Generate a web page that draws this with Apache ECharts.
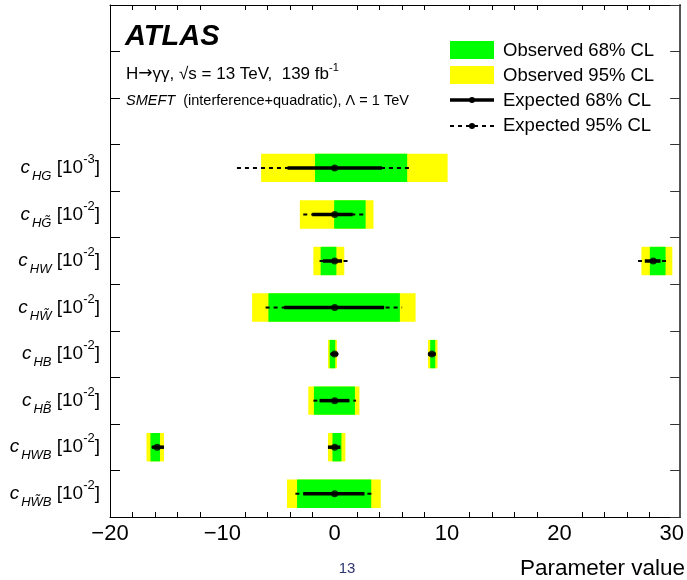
<!doctype html>
<html>
<head>
<meta charset="utf-8">
<title>ATLAS SMEFT limits</title>
<script src="https://cdn.jsdelivr.net/npm/echarts@6/dist/echarts.min.js"></script>
<style>
  html, body { margin: 0; padding: 0; background: #fff; }
  #chart { width: 687px; height: 580px; }
</style>
</head>
<body>
<div id="chart"></div>
<script>
  // rows of the y axis, top three left empty for the text block
  var rows = ['', '', '', 'HG', 'HGt', 'HW', 'HWt', 'HB', 'HBt', 'HWB', 'HWBt'];
  var subText = { HG: 'HG', HGt: 'HG\u0303', HW: 'HW', HWt: 'HW\u0303', HB: 'HB', HBt: 'HB\u0303', HWB: 'HWB', HWBt: 'HW\u0303B' };
  var scalePow = { HG: '-3', HGt: '-2', HW: '-2', HWt: '-2', HB: '-2', HBt: '-2', HWB: '-2', HWBt: '-2' };

  // [coefficient, low, high]
  var obs95 = [
    ['HG', -6.55, 10.05], ['HGt', -3.1, 3.45],
    ['HW', -1.9, 0.85], ['HW', 27.3, 30.05],
    ['HWt', -7.35, 7.2],
    ['HB', -0.6, 0.2], ['HB', 8.3, 9.15],
    ['HBt', -2.35, 2.2],
    ['HWB', -16.75, -15.2], ['HWB', -0.6, 0.95],
    ['HWBt', -4.25, 4.1]
  ];
  var obs68 = [
    ['HG', -1.75, 6.45], ['HGt', -0.05, 2.75],
    ['HW', -1.25, 0.15], ['HW', 28.05, 29.45],
    ['HWt', -5.9, 5.8],
    ['HB', -0.45, 0.05], ['HB', 8.5, 8.95],
    ['HBt', -1.85, 1.8],
    ['HWB', -16.4, -15.55], ['HWB', -0.2, 0.6],
    ['HWBt', -3.35, 3.25]
  ];
  var exp68 = [
    ['HG', -4.2, 4.2], ['HGt', -2.0, 1.6],
    ['HW', -1.05, 0.65], ['HW', 27.6, 29.0],
    ['HWt', -4.5, 4.4],
    ['HB', -0.35, 0.3], ['HB', 8.3, 9.0],
    ['HBt', -1.35, 1.3],
    ['HWB', -16.25, -15.2], ['HWB', -0.6, 0.5],
    ['HWBt', -2.8, 2.65]
  ];
  var exp95 = [
    ['HG', -8.7, 6.8], ['HGt', -2.8, 2.55],
    ['HW', -1.35, 1.25], ['HW', 27.0, 29.5],
    ['HWt', -6.15, 6.0],
    ['HB', -0.4, 0.35], ['HB', 8.3, 9.0],
    ['HBt', -1.9, 1.9],
    ['HWB', -16.3, -15.2], ['HWB', -0.6, 0.55],
    ['HWBt', -3.5, 3.45]
  ];
  // expected best-fit points [coefficient, value]
  var expCentre = [
    ['HG', 0], ['HGt', 0], ['HW', 0], ['HW', 28.35], ['HWt', 0],
    ['HB', 0], ['HB', 8.65], ['HBt', 0], ['HWB', -15.8], ['HWB', 0], ['HWBt', 0]
  ];

  var FONT = 'Liberation Sans';

  function toIdx(list) {
    return list.map(function (d) { return [rows.indexOf(d[0])].concat(d.slice(1)); });
  }

  function boxItem(color) {
    return function (params, api) {
      var r = api.value(0);
      var a = api.coord([api.value(1), r]);
      var b = api.coord([api.value(2), r]);
      var h = api.size([0, 1])[1] * 0.61;
      return {
        type: 'rect',
        shape: { x: a[0], y: a[1] - h / 2, width: b[0] - a[0], height: h },
        style: { fill: color }
      };
    };
  }

  function lineItem(width, dash) {
    return function (params, api) {
      var r = api.value(0);
      var a = api.coord([api.value(1), r]);
      var b = api.coord([api.value(2), r]);
      return {
        type: 'line',
        shape: { x1: a[0], y1: a[1], x2: b[0], y2: b[1] },
        style: { stroke: '#000', lineWidth: width, lineDash: dash }
      };
    };
  }

  function labelFmt(v) {
    if (!v) return '';
    return '{c|c}{s|' + subText[v] + '}{t| [10}{p|' + scalePow[v] + '}{t|]}';
  }

  var xBase = {
    type: 'value', min: -20, max: 30.75, interval: 10,
    splitLine: { show: false },
    axisLine: { show: true, onZero: false, lineStyle: { color: '#000', width: 1 } },
    axisTick: { inside: true, length: 9, lineStyle: { color: '#000' } },
    minorTick: { show: true, splitNumber: 5, length: 5, lineStyle: { color: '#000' } }
  };

  var chart = echarts.init(document.getElementById('chart'));
  chart.setOption({
    animation: false,
    grid: { left: 110, right: 2, top: 5, bottom: 63, containLabel: false },
    xAxis: [
      Object.assign({}, xBase, {
        position: 'bottom',
        axisLabel: {
          fontSize: 22, color: '#000', fontFamily: FONT, margin: 6, showMaxLabel: false,
          formatter: function (v) { return v < 0 ? '\u2212' + (-v) : String(v); }
        }
      }),
      Object.assign({}, xBase, { position: 'top', axisLabel: { show: false } })
    ],
    yAxis: [
      {
        type: 'category', data: rows, inverse: true, position: 'left',
        axisLine: { show: true, onZero: false, lineStyle: { color: '#000', width: 1 } },
        axisTick: { show: true, inside: true, length: 10, lineStyle: { color: '#000' } },
        axisLabel: {
          margin: 10, formatter: labelFmt,
          rich: {
            c: { fontFamily: FONT, fontStyle: 'italic', fontSize: 19, color: '#000', lineHeight: 30 },
            s: { fontFamily: FONT, fontStyle: 'italic', fontSize: 13, color: '#000', lineHeight: 10, verticalAlign: 'bottom', padding: [0, 0, 0, 2] },
            t: { fontFamily: FONT, fontSize: 19, color: '#000', lineHeight: 30 },
            p: { fontFamily: FONT, fontSize: 13, color: '#000', lineHeight: 16, verticalAlign: 'top' }
          }
        }
      },
      {
        type: 'category', data: rows, inverse: true, position: 'right',
        axisLine: { show: true, onZero: false, lineStyle: { color: '#555', width: 2 } },
        axisTick: { show: true, inside: true, length: 10, lineStyle: { color: '#333' } },
        axisLabel: { show: false }
      }
    ],
    series: [
      { type: 'custom', xAxisIndex: 0, yAxisIndex: 0, renderItem: boxItem('#ffff00'), data: toIdx(obs95), encode: { x: [1, 2], y: 0 } },
      { type: 'custom', xAxisIndex: 0, yAxisIndex: 0, renderItem: boxItem('#00ff00'), data: toIdx(obs68), encode: { x: [1, 2], y: 0 } },
      { type: 'custom', xAxisIndex: 0, yAxisIndex: 0, renderItem: lineItem(2, [4, 4]), data: toIdx(exp95), encode: { x: [1, 2], y: 0 } },
      { type: 'custom', xAxisIndex: 0, yAxisIndex: 0, renderItem: lineItem(3.5, null), data: toIdx(exp68), encode: { x: [1, 2], y: 0 } },
      {
        type: 'scatter', xAxisIndex: 0, yAxisIndex: 0, symbol: 'circle', symbolSize: 7,
        itemStyle: { color: '#000' },
        data: expCentre.map(function (d) { return [d[1], rows.indexOf(d[0])]; })
      }
    ],
    graphic: [
      { type: 'text', x: 125, y: 37, style: { text: 'ATLAS', fontFamily: FONT, fontSize: 29, fontWeight: 'bold', fontStyle: 'italic', fill: '#000', verticalAlign: 'middle' } },
      { type: 'text', x: 126, y: 74, style: {
          text: '{m|H}{a|\u2192}{m|\u03b3\u03b3, \u221as = 13 TeV,  139 fb}{u|-1}', verticalAlign: 'middle',
          rich: {
            m: { fontFamily: FONT, fontSize: 17, fill: '#000', lineHeight: 24 },
            a: { fontFamily: 'DejaVu Sans', fontSize: 17, fill: '#000', lineHeight: 24 },
            u: { fontFamily: FONT, fontSize: 11, fill: '#000', lineHeight: 12, verticalAlign: 'top' }
          } } },
      { type: 'text', x: 126, y: 101, style: {
          text: '{i|SMEFT}{r|  (interference+quadratic), \u039b = 1 TeV}', verticalAlign: 'middle',
          rich: {
            i: { fontFamily: FONT, fontSize: 14.5, fontStyle: 'italic', fill: '#000' },
            r: { fontFamily: FONT, fontSize: 14.5, fill: '#000' }
          } } },
      // legend
      { type: 'rect', shape: { x: 450, y: 41, width: 44, height: 18 }, style: { fill: '#00ff00' } },
      { type: 'rect', shape: { x: 450, y: 66, width: 44, height: 18 }, style: { fill: '#ffff00' } },
      { type: 'line', shape: { x1: 450, y1: 100, x2: 494, y2: 100 }, style: { stroke: '#000', lineWidth: 3.5 } },
      { type: 'circle', shape: { cx: 472, cy: 100, r: 3 }, style: { fill: '#000' } },
      { type: 'line', shape: { x1: 450, y1: 126, x2: 494, y2: 126 }, style: { stroke: '#000', lineWidth: 2, lineDash: [4, 4] } },
      { type: 'circle', shape: { cx: 472, cy: 126, r: 3 }, style: { fill: '#000' } },
      { type: 'text', x: 503, y: 51, style: { text: 'Observed 68% CL', fontFamily: FONT, fontSize: 18.5, fill: '#000', verticalAlign: 'middle' } },
      { type: 'text', x: 503, y: 76, style: { text: 'Observed 95% CL', fontFamily: FONT, fontSize: 18.5, fill: '#000', verticalAlign: 'middle' } },
      { type: 'text', x: 503, y: 101, style: { text: 'Expected 68% CL', fontFamily: FONT, fontSize: 18.5, fill: '#000', verticalAlign: 'middle' } },
      { type: 'text', x: 503, y: 126, style: { text: 'Expected 95% CL', fontFamily: FONT, fontSize: 18.5, fill: '#000', verticalAlign: 'middle' } },
      // axis title and page number
      { type: 'text', right: 2, top: 557, style: { text: 'Parameter value', fontFamily: FONT, fontSize: 22.5, fill: '#000' } },
      { type: 'text', x: 347, y: 569, style: { text: '13', fontFamily: FONT, fontSize: 15, fill: '#2e3470', align: 'center', verticalAlign: 'middle' } }
    ]
  });
</script>
</body>
</html>
